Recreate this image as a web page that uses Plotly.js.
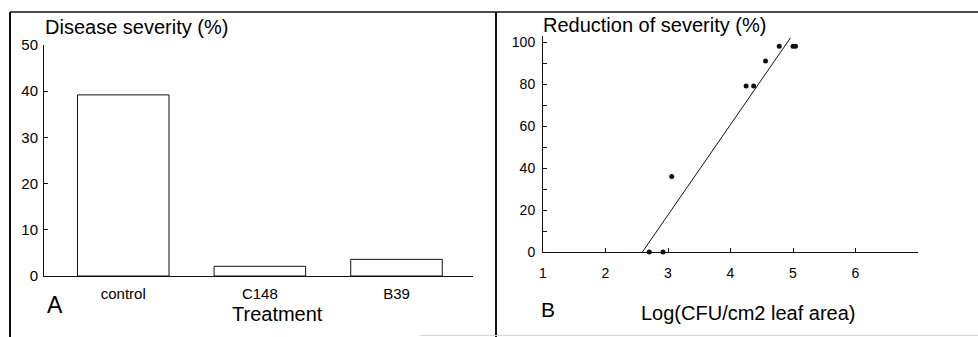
<!DOCTYPE html>
<html><head><meta charset="utf-8">
<script src="https://cdn.plot.ly/plotly-3.0.1.min.js"></script>
<style>html,body{margin:0;padding:0;background:#fff}#chart{width:978px;height:337px}</style>
</head><body><div id="chart"></div>
<script>
// Panel A
const treatments = ['control', 'C148', 'B39'];
const severity = [39.2, 2.1, 3.6];
const yTicksA = [0, 10, 20, 30, 40, 50];
// Panel B
const logCFU = [2.70, 2.92, 3.06, 4.25, 4.37, 4.56, 4.78, 5.00, 5.04];
const reduction = [0, 0, 36, 79, 79, 91, 98, 98, 98];
const fitX = [2.59, 4.96];
const fitY = [0, 102];
const yTicksB = [0, 20, 40, 60, 80, 100];
const yMinorB = [10, 30, 50, 70, 90];
const xTicksB = [1, 2, 3, 4, 5, 6];

const FONT = 'Liberation Sans, Arial, Helvetica, sans-serif';
const INK = '#111';
const W = 978, H = 337;
const px = v => v / W, py = v => 1 - v / H;

const traces = [
  {type: 'bar', x: treatments, y: severity, xaxis: 'x', yaxis: 'y', width: 0.67,
   marker: {color: '#fff', line: {color: INK, width: 1}}, hoverinfo: 'none'},
  {type: 'scatter', mode: 'lines', x: fitX, y: fitY, xaxis: 'x2', yaxis: 'y2',
   line: {color: INK, width: 1}, hoverinfo: 'none'},
  {type: 'scatter', mode: 'markers', x: logCFU, y: reduction, xaxis: 'x2', yaxis: 'y2',
   marker: {color: INK, size: 5}, cliponaxis: false, hoverinfo: 'none'}
];

const axBase = {showgrid: false, zeroline: false, showline: true, linecolor: INK, linewidth: 1,
  tickcolor: INK, tickwidth: 1, fixedrange: true};

const layout = {
  width: W, height: H, margin: {l: 0, r: 0, t: 0, b: 0},
  paper_bgcolor: '#fff', plot_bgcolor: 'rgba(0,0,0,0)', showlegend: false,
  font: {family: FONT, color: INK},
  xaxis: Object.assign({}, axBase, {domain: [px(44), px(473)], anchor: 'y', type: 'category',
    range: [-0.58, 2.56], ticks: '', tickfont: {size: 15, color: '#000'}, ticklabelstandoff: 4}),
  yaxis: Object.assign({}, axBase, {domain: [py(276), py(45)], anchor: 'x', range: [0, 50],
    tickvals: yTicksA, ticks: 'inside', ticklen: 4, tickfont: {size: 15, color: '#000'}, ticklabelstandoff: 2}),
  xaxis2: Object.assign({}, axBase, {domain: [px(543), px(918)], anchor: 'y2', range: [1, 7],
    tickvals: xTicksB, ticks: 'inside', ticklen: 4, tickfont: {size: 14, color: '#000'}, ticklabelstandoff: 8}),
  yaxis2: Object.assign({}, axBase, {domain: [py(252), py(252 - 103 * 2.1)], anchor: 'x2', range: [0, 103],
    tickvals: yTicksB, ticks: 'inside', ticklen: 4, tickfont: {size: 14, color: '#000'}, ticklabelstandoff: 4,
    minor: {tickvals: yMinorB, ticks: 'inside', ticklen: 4, tickcolor: INK, tickwidth: 1}}),
  annotations: [
    {text: 'Disease severity (%)', xref: 'paper', yref: 'paper', x: px(43), y: py(27), xanchor: 'left', yanchor: 'middle', showarrow: false, font: {size: 20, color: '#000'}},
    {text: 'Reduction of severity (%)', xref: 'paper', yref: 'paper', x: px(541), y: py(25), xanchor: 'left', yanchor: 'middle', showarrow: false, font: {size: 20, color: '#000'}},
    {text: 'Treatment', xref: 'paper', yref: 'paper', x: px(277), y: py(314), xanchor: 'center', yanchor: 'middle', showarrow: false, font: {size: 20, color: '#000'}},
    {text: 'Log(CFU/cm2 leaf area)', xref: 'paper', yref: 'paper', x: px(748), y: py(313), xanchor: 'center', yanchor: 'middle', showarrow: false, font: {size: 20, color: '#000'}},
    {text: 'A', xref: 'paper', yref: 'paper', x: px(55), y: py(305), xanchor: 'center', yanchor: 'middle', showarrow: false, font: {size: 23, color: '#000'}},
    {text: 'B', xref: 'paper', yref: 'paper', x: px(548), y: py(309), xanchor: 'center', yanchor: 'middle', showarrow: false, font: {size: 21, color: '#000'}}
  ],
  shapes: [
    {type: 'line', xref: 'paper', yref: 'paper', x0: px(10), x1: 1, y0: py(12), y1: py(12), line: {color: INK, width: 1.5}},
    {type: 'line', xref: 'paper', yref: 'paper', x0: px(10), x1: px(10), y0: py(12), y1: 0, line: {color: INK, width: 2}},
    {type: 'line', xref: 'paper', yref: 'paper', x0: px(496), x1: px(496), y0: py(12), y1: 0, line: {color: INK, width: 2}},
    {type: 'line', xref: 'paper', yref: 'paper', x0: px(420), x1: 1, y0: py(335.5), y1: py(335.5), line: {color: '#d8d8d8', width: 1}}
  ]
};

Plotly.newPlot('chart', traces, layout, {staticPlot: true, displayModeBar: false});
</script></body></html>
